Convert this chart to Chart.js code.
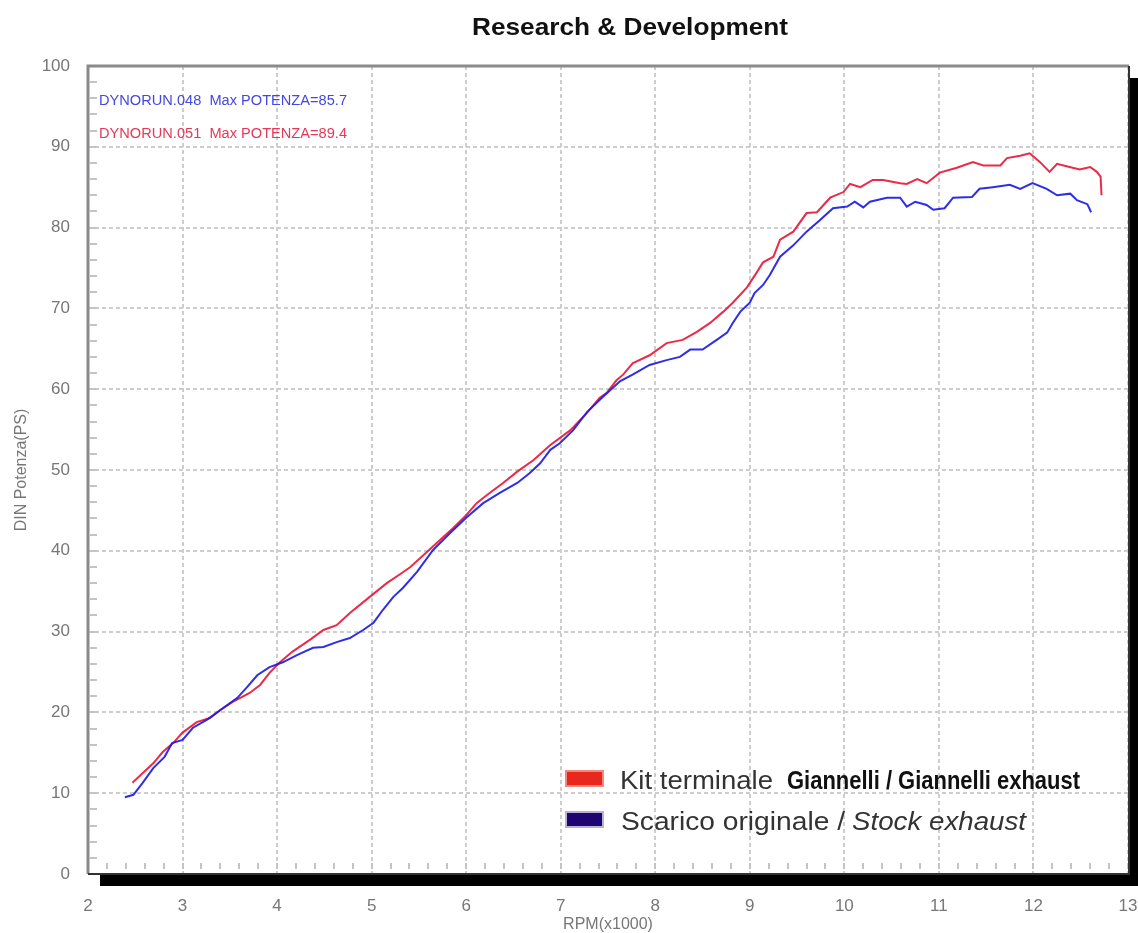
<!DOCTYPE html>
<html>
<head>
<meta charset="utf-8">
<script src="https://cdn.jsdelivr.net/npm/chart.js@4.4.1/dist/chart.umd.min.js"></script>
<style>
  html, body { margin: 0; padding: 0; background: #fff; }
  #wrap { width: 1138px; height: 933px; position: relative; }
</style>
</head>
<body>
<div id="wrap"><canvas id="chartCanvas"></canvas></div>
<script>
// dati: RPM (x1000) e potenza DIN (PS)
const redRpm = [2.47, 2.58, 2.69, 2.79, 2.9, 3.0, 3.15, 3.29, 3.4, 3.53, 3.71, 3.82, 3.92, 4.03, 4.16, 4.35, 4.49, 4.63, 4.77, 4.98,
  5.16, 5.3, 5.41, 5.59, 5.72, 5.86, 6.0, 6.11, 6.22, 6.39, 6.54, 6.71, 6.89, 7.1, 7.28, 7.41, 7.49, 7.59, 7.66, 7.76,
  7.94, 8.12, 8.29, 8.44, 8.58, 8.72, 8.82, 8.97, 9.07, 9.14, 9.25, 9.32, 9.46, 9.6, 9.71, 9.85, 9.99, 10.06, 10.17, 10.3,
  10.41, 10.59, 10.66, 10.77, 10.87, 11.01, 11.19, 11.36, 11.47, 11.65, 11.72, 11.86, 11.96, 12.07, 12.17, 12.25, 12.35, 12.49, 12.6, 12.67,
  12.71, 12.72];
const redPower = [11.3, 12.5, 13.7, 15.1, 16.2, 17.5, 18.8, 19.3, 20.3, 21.3, 22.4, 23.4, 24.9, 26.2, 27.5, 29.0, 30.2, 30.8, 32.3, 34.3,
  36.0, 37.1, 38.0, 39.9, 41.3, 42.8, 44.4, 45.9, 46.9, 48.4, 49.8, 51.2, 53.1, 54.9, 57.1, 58.9, 59.6, 61.1, 61.8, 63.2,
  64.2, 65.7, 66.1, 67.1, 68.2, 69.6, 70.7, 72.6, 74.4, 75.7, 76.4, 78.5, 79.5, 81.8, 81.9, 83.7, 84.4, 85.4, 85.0, 85.9,
  85.9, 85.5, 85.4, 86.0, 85.5, 86.8, 87.4, 88.1, 87.7, 87.7, 88.6, 88.9, 89.2, 88.1, 86.9, 87.9, 87.6, 87.2, 87.5, 86.9,
  86.3, 84.0];

const blueRpm = [2.39, 2.48, 2.58, 2.69, 2.81, 2.89, 3.0, 3.11, 3.26, 3.4, 3.58, 3.68, 3.79, 3.92, 4.06, 4.21, 4.38, 4.49, 4.63, 4.77,
  4.91, 5.02, 5.12, 5.23, 5.33, 5.48, 5.65, 5.83, 6.0, 6.18, 6.36, 6.54, 6.67, 6.78, 6.89, 6.99, 7.13, 7.28, 7.45, 7.63,
  7.76, 7.94, 8.12, 8.26, 8.37, 8.5, 8.65, 8.76, 8.82, 8.9, 9.0, 9.05, 9.14, 9.21, 9.32, 9.46, 9.6, 9.74, 9.88, 10.03,
  10.11, 10.2, 10.27, 10.45, 10.59, 10.66, 10.75, 10.87, 10.94, 11.06, 11.15, 11.35, 11.43, 11.57, 11.75, 11.86, 11.99, 12.14, 12.25, 12.39,
  12.46, 12.57, 12.61];
const bluePower = [9.5, 9.8, 11.3, 13.1, 14.5, 16.2, 16.6, 18.1, 19.1, 20.3, 21.8, 23.1, 24.6, 25.6, 26.2, 27.1, 28.0, 28.1, 28.7, 29.2,
  30.2, 31.1, 32.7, 34.3, 35.4, 37.4, 40.1, 42.2, 44.1, 45.9, 47.2, 48.4, 49.6, 50.8, 52.5, 53.3, 54.9, 57.2, 59.1, 61.0,
  61.8, 63.0, 63.6, 64.0, 64.9, 64.9, 66.1, 67.0, 68.2, 69.6, 70.7, 71.9, 72.9, 74.1, 76.4, 77.8, 79.5, 80.9, 82.4, 82.6,
  83.2, 82.5, 83.2, 83.7, 83.7, 82.6, 83.2, 82.8, 82.2, 82.4, 83.7, 83.8, 84.8, 85.0, 85.3, 84.8, 85.5, 84.8, 84.0, 84.2,
  83.4, 82.9, 81.9];

const runLabels = ["DYNORUN.048  Max POTENZA=85.7", "DYNORUN.051  Max POTENZA=89.4"];
const legendLabels = [["Kit terminale", "Giannelli / Giannelli exhaust"], ["Scarico originale /", "Stock exhaust"]];

const redColor = 'rgba(232, 24, 56, 0.92)';
const blueColor = 'rgba(28, 28, 228, 0.92)';

function toPoints(xs, ys) {
    return xs.map((x, i) => ({ x: x, y: ys[i] }));
}

// testo adattato ad una larghezza (l'originale è stirato in orizzontale)
function fitText(ctx, text, x, y, w, font, color) {
    ctx.font = font;
    const m = ctx.measureText(text).width;
    ctx.save();
    ctx.translate(x, y);
    ctx.scale(w / m, 1);
    ctx.fillStyle = color;
    ctx.textAlign = 'left';
    ctx.textBaseline = 'alphabetic';
    ctx.fillText(text, 0, 0);
    ctx.restore();
}

const framePlugin = {
    id: 'frame',
    beforeDraw(chart) {
        const { ctx, chartArea: a } = chart;
        ctx.save();
        // ombra nera
        ctx.fillStyle = '#000';
        ctx.fillRect(a.left + 12, a.top + 12, a.right - a.left, a.bottom - a.top);
        ctx.fillStyle = '#fff';
        ctx.fillRect(a.left, a.top, a.right - a.left, a.bottom - a.top);
        ctx.restore();
    },
    beforeDatasetsDraw(chart) {
        const { ctx, chartArea: a, scales } = chart;
        const xs = scales.x, ys = scales.y;
        ctx.save();
        ctx.strokeStyle = '#c4c4c4';
        ctx.lineWidth = 2;
        // tacche minori
        for (let v = 2; v < 13; v += 0.2) {
            const px = Math.round(xs.getPixelForValue(v));
            ctx.beginPath();
            ctx.moveTo(px, a.bottom - 11);
            ctx.lineTo(px, a.bottom - 5);
            ctx.stroke();
        }
        for (let v = 2; v < 100; v += 2) {
            const py = Math.round(ys.getPixelForValue(v));
            ctx.beginPath();
            ctx.moveTo(a.left + 2, py);
            ctx.lineTo(a.left + 9, py);
            ctx.stroke();
        }
        ctx.restore();
    },
    afterDraw(chart) {
        const { ctx, chartArea: a } = chart;
        ctx.save();
        ctx.strokeStyle = '#8a8a8a';
        ctx.lineWidth = 3;
        ctx.beginPath();
        ctx.moveTo(a.left, a.bottom);
        ctx.lineTo(a.left, a.top);
        ctx.lineTo(a.right + 1, a.top);
        ctx.stroke();
        ctx.strokeStyle = '#333';
        ctx.lineWidth = 2;
        ctx.beginPath();
        ctx.moveTo(a.right + 1, a.top);
        ctx.lineTo(a.right + 1, a.bottom);
        ctx.lineTo(a.left, a.bottom);
        ctx.stroke();

        // titolo
        fitText(ctx, "Research & Development", 472, 35, 316, 'bold 24px "Liberation Sans", Arial', '#111');

        // righe DYNORUN
        fitText(ctx, runLabels[0], 99, 105, 248, '14px "Liberation Sans", Arial', '#4646e0');
        fitText(ctx, runLabels[1], 99, 138, 248, '14px "Liberation Sans", Arial', '#e23a58');

        // legenda
        ctx.fillStyle = '#f08a80';
        ctx.fillRect(565, 770, 39, 17);
        ctx.fillStyle = '#e8281c';
        ctx.fillRect(567, 772, 35, 13);
        ctx.fillStyle = '#b8b0d8';
        ctx.fillRect(565, 811, 39, 17);
        ctx.fillStyle = '#1e0470';
        ctx.fillRect(567, 813, 35, 13);

        fitText(ctx, legendLabels[0][0], 620, 789, 153, '26px "Liberation Sans", Arial', '#333');
        fitText(ctx, legendLabels[0][1], 787, 789, 293, 'bold 26px "Liberation Sans Narrow", "Liberation Sans", Arial', '#111');
        fitText(ctx, legendLabels[1][0], 621, 830, 224, '26px "Liberation Sans", Arial', '#333');
        fitText(ctx, legendLabels[1][1], 852, 830, 174, 'italic 26px "Liberation Sans", Arial', '#333');
        ctx.restore();
    }
};

new Chart(document.getElementById('chartCanvas').getContext('2d'), {
    type: 'line',
    data: {
        datasets: [
            {
                label: 'Scarico originale / Stock exhaust',
                data: toPoints(blueRpm, bluePower),
                borderColor: blueColor,
                borderWidth: 2,
                pointRadius: 0,
                tension: 0,
                fill: false
            },
            {
                label: 'Kit terminale Giannelli / Giannelli exhaust',
                data: toPoints(redRpm, redPower),
                borderColor: redColor,
                borderWidth: 2,
                pointRadius: 0,
                tension: 0,
                fill: false
            }
        ]
    },
    options: {
        responsive: true,
        maintainAspectRatio: false,
        animation: false,
        layout: { padding: { top: 66, right: 10, left: 0, bottom: 0 } },
        plugins: {
            legend: { display: false },
            title: { display: false },
            tooltip: { enabled: false }
        },
        scales: {
            x: {
                type: 'linear',
                min: 2,
                max: 13,
                afterFit(scale) {
                    scale.height = 59;
                    scale.paddingLeft = 0;
                    scale.paddingRight = 0;
                },
                ticks: {
                    stepSize: 1,
                    color: '#777',
                    padding: 22,
                    font: { family: '"Liberation Sans", Arial', size: 17 }
                },
                grid: { color: '#cdcdcd', lineWidth: 2, drawTicks: false },
                border: { display: false, dash: [4, 3] },
                title: {
                    display: true,
                    text: 'RPM(x1000)',
                    color: '#777',
                    padding: { top: 0, bottom: 0 },
                    font: { family: '"Liberation Sans", Arial', size: 16, lineHeight: 1 }
                }
            },
            y: {
                min: 0,
                max: 100,
                afterFit(scale) {
                    scale.width = 88;
                    scale.paddingTop = 0;
                    scale.paddingBottom = 0;
                },
                ticks: {
                    stepSize: 10,
                    color: '#777',
                    padding: 18,
                    font: { family: '"Liberation Sans", Arial', size: 17 }
                },
                grid: { color: '#cdcdcd', lineWidth: 2, drawTicks: false },
                border: { display: false, dash: [4, 3] },
                title: {
                    display: true,
                    text: 'DIN Potenza(PS)',
                    color: '#777',
                    padding: { top: 12, bottom: 0 },
                    font: { family: '"Liberation Sans", Arial', size: 16 }
                }
            }
        }
    },
    plugins: [framePlugin]
});
</script>
</body>
</html>
